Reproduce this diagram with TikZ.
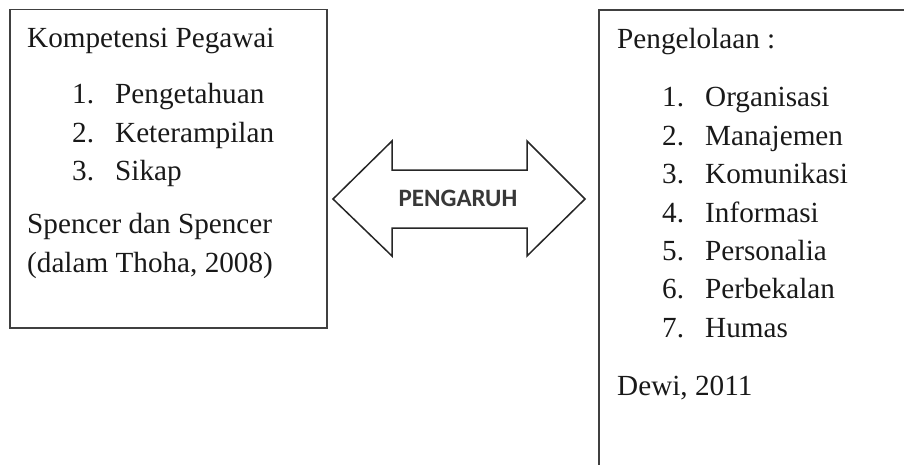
\documentclass[tikz,border=0pt]{standalone}
\usepackage{fontspec}
\setmainfont{Liberation Serif}
\newfontfamily\arrowfont{Carlito}
\begin{document}
\begin{tikzpicture}[x=1pt,y=-1pt,
  frame/.style={draw=black!75,line width=1.4pt},
  txt/.style={anchor=base west,inner sep=0pt,font=\fontsize{29.2}{34}\selectfont,text=black!90},
  arrowshape/.style={draw=black!85,line width=1.5pt,fill=white,line join=miter},
  arrowlabel/.style={inner sep=0pt,font=\arrowfont\bfseries\fontsize{25}{30}\selectfont,text=black!78}]
\useasboundingbox (0,0) rectangle (904,464);
\begin{scope}
\clip (0,0) rectangle (904,464);
% left box
\draw[frame] (10,9.5) rectangle (327,328);
% right box (extends beyond the picture)
\draw[frame] (599,10) rectangle (910,480);
\end{scope}
% left texts
\node[txt] (lt) at (27,47) {Kompetensi Pegawai};
\node[txt] (ln1) at (72,103) {1.};
\node[txt] (li1) at (115,103) {Pengetahuan};
\node[txt] (ln2) at (72,142) {2.};
\node[txt] (li2) at (115,142) {Keterampilan};
\node[txt] (ln3) at (72,180) {3.};
\node[txt] (li3) at (115,180) {Sikap};
\node[txt] (ls1) at (27,233) {Spencer dan Spencer};
\node[txt] (ls2) at (27,272) {(dalam Thoha, 2008)};
% right texts
\node[txt] (rt) at (617,48) {Pengelolaan :};
\foreach \n/\t/\y in {1/Organisasi/106,2/Manajemen/145,3/Komunikasi/183,4/Informasi/222,5/Personalia/260,6/Perbekalan/298,7/Humas/337}{
  \node[txt] (rn\n) at (662,\y) {\n.};
  \node[txt] (ri\n) at (705,\y) {\t};
}
\node[txt] (rs) at (617,395) {Dewi, 2011};
% double arrow
\draw[arrowshape] (333,199) -- (392,141) -- (392,170) -- (527,170) -- (527,141)
  -- (585,199) -- (527,256) -- (527,228) -- (392,228) -- (392,256) -- cycle;
\node[arrowlabel,anchor=base] (lab) at (458,206) {PENGARUH};
\end{tikzpicture}
\end{document}
